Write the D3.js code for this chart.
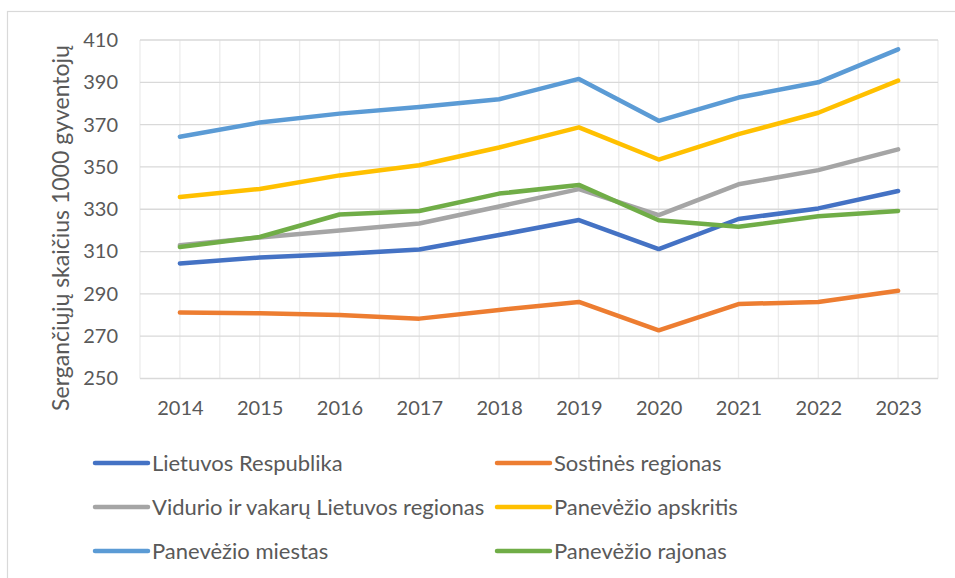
<!DOCTYPE html>
<html>
<head>
<meta charset="utf-8">
<script src="https://cdn.jsdelivr.net/npm/d3@7"></script>
<style>
  html, body { margin: 0; padding: 0; background: #fff; }
  svg { display: block; }
  text { font-family: Lato, "Open Sans", sans-serif; fill: #595959; }
</style>
</head>
<body>
<svg id="chart" width="955" height="578"></svg>
<script>
// Years on the category axis
const years = ["2014", "2015", "2016", "2017", "2018", "2019", "2020", "2021", "2022", "2023"];

// Patients per 1000 inhabitants, by area
const lietuvosRespublika = [304.4, 307.2, 308.8, 311.0, 317.8, 324.9, 311.2, 325.4, 330.4, 338.6];
const sostinesRegionas   = [281.2, 280.8, 280.0, 278.3, 282.4, 286.2, 272.8, 285.2, 286.2, 291.5];
const vidurioVakaru      = [313.0, 316.7, 320.0, 323.3, 331.3, 339.5, 327.2, 341.8, 348.5, 358.3];
const panevezioApskritis = [335.8, 339.6, 346.0, 350.8, 359.2, 368.7, 353.5, 365.5, 375.6, 390.8];
const panevezioMiestas   = [364.3, 371.0, 375.2, 378.3, 382.0, 391.6, 371.8, 382.8, 390.0, 405.6];
const panevezioRajonas   = [312.2, 316.9, 327.5, 329.2, 337.4, 341.5, 324.8, 321.7, 326.7, 329.2];

// Value axis ticks
const yTicks = [250, 270, 290, 310, 330, 350, 370, 390, 410];

const seriesNames = [
  "Lietuvos Respublika",
  "Sostinės regionas",
  "Vidurio ir vakarų Lietuvos regionas",
  "Panevėžio apskritis",
  "Panevėžio miestas",
  "Panevėžio rajonas"
];
const seriesValues = [
  lietuvosRespublika, sostinesRegionas, vidurioVakaru,
  panevezioApskritis, panevezioMiestas, panevezioRajonas
];
const seriesColors = ["#4472c4", "#ed7d31", "#a5a5a5", "#ffc000", "#5b9bd5", "#70ad47"];

const yTitle = "Sergančiųjų skaičius 1000 gyventojų";

const svg = d3.select("#chart");

// Outer chart frame
svg.append("rect")
  .attr("x", 7.5).attr("y", 11.5)
  .attr("width", 1000).attr("height", 1000)
  .attr("fill", "#fff")
  .attr("stroke", "#d9d9d9").attr("stroke-width", 1.2);

const plot = { left: 140, right: 938, top: 40, bottom: 378.5 };

const x = d3.scaleBand().domain(years).range([plot.left, plot.right]).padding(0);
const xc = d => x(d) + x.bandwidth() / 2;
const y = d3.scaleLinear().domain([250, 410]).range([plot.bottom, plot.top]);

// Vertical gridlines: category boundaries and centers
const vLines = [];
years.forEach(d => { vLines.push(x(d)); vLines.push(xc(d)); });
vLines.push(plot.right);
svg.append("g").selectAll("line").data(vLines).join("line")
  .attr("x1", d => d).attr("x2", d => d)
  .attr("y1", plot.top).attr("y2", plot.bottom)
  .attr("stroke", "#ececec").attr("stroke-width", 1.3);

// Horizontal gridlines
svg.append("g").selectAll("line").data(yTicks).join("line")
  .attr("x1", plot.left).attr("x2", plot.right)
  .attr("y1", d => y(d)).attr("y2", d => y(d))
  .attr("stroke", "#d9d9d9").attr("stroke-width", 1.3);

// Value axis labels
const yAxis = d3.axisLeft(y).tickValues(yTicks).tickSize(0).tickPadding(22);
const gy = svg.append("g").attr("transform", `translate(${plot.left},0)`).call(yAxis);
gy.select(".domain").remove();
gy.selectAll("text").attr("font-size", 20).style("font-family", "Lato, sans-serif").attr("fill", "#595959");

// Category axis labels
const xAxis = d3.axisBottom(d3.scalePoint().domain(years).range([xc(years[0]), xc(years[years.length - 1])]))
  .tickSize(0).tickPadding(22);
const gx = svg.append("g").attr("transform", `translate(0,${plot.bottom})`).call(xAxis);
gx.select(".domain").remove();
gx.selectAll("text").attr("font-size", 20).style("font-family", "Lato, sans-serif").attr("fill", "#595959");

// Axis title
svg.append("text")
  .attr("transform", `translate(69,228) rotate(-90)`)
  .attr("text-anchor", "middle")
  .attr("font-size", 23)
  .text(yTitle);

// Series lines
const line = d3.line()
  .x((d, i) => xc(years[i]))
  .y(d => y(d));

svg.append("g").selectAll("path").data(seriesValues).join("path")
  .attr("d", d => line(d))
  .attr("fill", "none")
  .attr("stroke", (d, i) => seriesColors[i])
  .attr("stroke-width", 4.5)
  .attr("stroke-linecap", "round")
  .attr("stroke-linejoin", "round");

// Legend: two columns, three rows
const legendCols = [93, 495];
const legendRows = [463, 507, 551];
const lg = svg.append("g").selectAll("g").data(seriesNames).join("g")
  .attr("transform", (d, i) => `translate(${legendCols[i % 2]},${legendRows[Math.floor(i / 2)]})`);
lg.append("line")
  .attr("x1", 2).attr("x2", 55).attr("y1", 0).attr("y2", 0)
  .attr("stroke", (d, i) => seriesColors[i])
  .attr("stroke-width", 4.5)
  .attr("stroke-linecap", "round");
lg.append("text")
  .attr("x", 59).attr("y", 0).attr("dy", "0.35em")
  .attr("font-size", 22)
  .text(d => d);
</script>
</body>
</html>
